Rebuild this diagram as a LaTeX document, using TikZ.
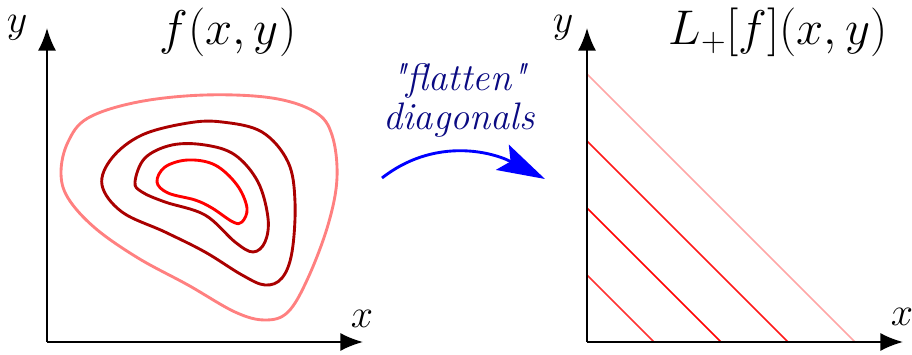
\RequirePackage{fix-cm}
\documentclass[tikz,border=0pt]{standalone}
\usepackage{fontspec}
\usetikzlibrary{arrows.meta,calc}
\definecolor{mapblue}{RGB}{10,10,130}
\definecolor{darkred}{RGB}{170,0,0}

\begin{document}
\begin{tikzpicture}[
    x=0.022cm,
    y=0.022cm,
    axis/.style={line width=1.2pt, -{Latex[length=0.5cm, width=0.4cm]}},
    lbl/.style={font=\fontsize{25}{30}\selectfont},
    ttl/.style={font=\fontsize{30.5}{36}\selectfont},
    level/.style={line width=1.8pt, smooth cycle, tension=0.6},
    diag/.style={line width=1pt},
    flow/.style={line width=1.8pt, blue, -{Stealth[length=1.05cm, width=0.62cm, inset=0.2cm]}}
]
\useasboundingbox (0,0) rectangle (912,355);

% ------------------------------------------------------------
% left: contour lines of f
% ------------------------------------------------------------
\coordinate (lo) at (47,13);
\coordinate (ly) at (47,327);
\coordinate (lx) at (363,13);
\draw[axis] (lo) -- (ly);
\draw[axis] (lo) -- (lx);
\node[lbl] (lylab) at (17,327) {$y$};
\node[lbl] (lxlab) at (362,36) {$x$};
\node[ttl] (ltitle) at (228,323) {$f(x,y)$};

\draw[level, red!50] plot coordinates {(61,183) (68,213) (88,237) (138,253) (205,260)
    (272,257) (315,243) (332,220) (337,177) (328,130) (308,77) (288,43) (265,35)
    (235,43) (188,70) (138,97) (95,127) (68,157)};
\draw[level, darkred] plot coordinates {(102,170) (112,197) (142,220) (188,232) (222,233)
    (262,223) (288,193) (295,153) (292,103) (282,77) (265,70) (242,80) (205,103)
    (165,123) (122,143)};
\draw[level, darkred] plot coordinates {(135,173) (145,197) (172,210) (205,210) (235,200)
    (258,173) (268,137) (265,113) (253,103) (235,113) (205,140) (165,153) (142,163)};
\draw[level, red] plot coordinates {(157,173) (165,188) (188,195) (215,190) (237,170)
    (247,147) (242,133) (233,133) (212,147) (195,155) (168,162)};

% ------------------------------------------------------------
% middle: the map
% ------------------------------------------------------------
\node[font=\fontsize{24}{24.5}\selectfont\itshape, text=mapblue, align=center] (flat) at (459,255)
    {\textquotedbl flatten\textquotedbl\\diagonals};
\coordinate (fs) at (382,177);
\coordinate (fe) at (545,176);
\draw[flow] (fs) to[out=38, in=153] (fe);

% ------------------------------------------------------------
% right: constant along the diagonals
% ------------------------------------------------------------
\coordinate (ro) at (587,13);
\coordinate (ry) at (587,327);
\coordinate (rx) at (903,13);
\foreach \k/\col in {1/red!80, 2/red, 3/red!90, 4/red!35} {
    \draw[diag, \col] ($(ro)+(0,67*\k)$) -- ($(ro)+(67*\k,0)$);
}
\draw[axis] (ro) -- (ry);
\draw[axis] (ro) -- (rx);
\node[lbl] (rylab) at (563,327) {$y$};
\node[lbl] (rxlab) at (902,38) {$x$};
\node[ttl] (rtitle) at (778,323) {$L_+[f](x,y)$};

\end{tikzpicture}
\end{document}
